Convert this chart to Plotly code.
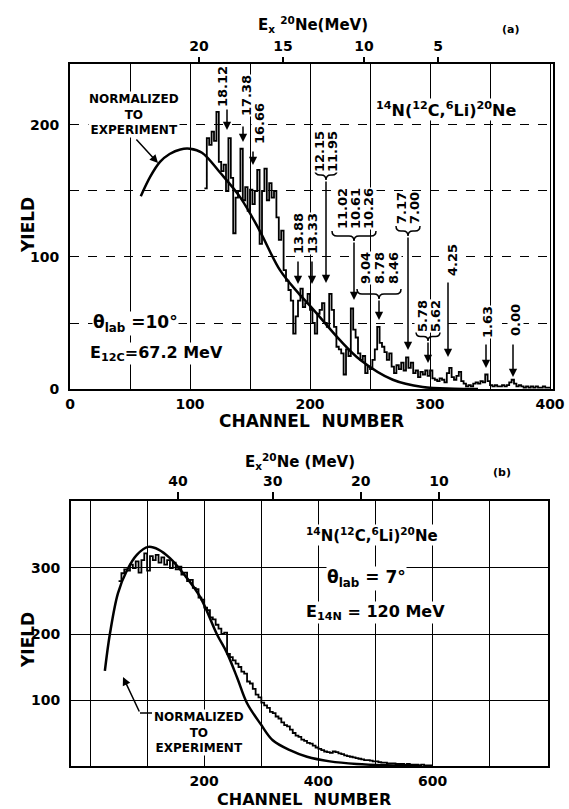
import plotly.graph_objects as go

W, H = 569, 809
FONT = "DejaVu Sans"

# ---------------- Panel (a): 14N(12C,6Li)20Ne, theta_lab = 10 deg ----------------
a_start_channel = 112
a_channel_step = 2
a_counts = [
    152, 190, 185, 195, 188, 210, 172, 165, 170, 150,
    190, 160, 118, 145, 150, 182, 143, 153, 135, 151,
    140, 150, 166, 110, 150, 167, 143, 156, 145, 150,
    130, 113, 120, 90, 82, 75, 67, 42, 55, 67,
    76, 62, 65, 72, 60, 50, 42, 57, 60, 65,
    50, 47, 72, 60, 47, 32, 30, 27, 11, 30,
    25, 61, 45, 39, 27, 22, 25, 12, 17, 15,
    22, 30, 47, 35, 32, 28, 22, 27, 17, 12,
    18, 15, 20, 14, 24, 16, 20, 12, 14, 9,
    13, 11, 14, 10, 14, 8, 7, 6, 8, 7,
    5, 12, 16, 9, 7, 10, 13, 6, 4, 2,
    3, 2, 4, 5, 4, 6, 5, 11, 6, 3,
    2, 3, 2, 2, 3, 2, 3, 5, 7, 4,
    2, 3, 2, 1, 2, 1, 2, 1, 2, 1,
    1, 2, 1, 1, 1,
]
a_channels = [a_start_channel + a_channel_step * i for i in range(len(a_counts))]

a_theory_channel = [59, 67, 75, 83, 92, 100, 110, 125, 142, 158, 175, 190, 203, 225, 242, 269, 294, 320, 340]
a_theory_yield = [146, 161, 172, 178, 181.5, 182, 179, 164, 145, 120, 90, 73, 60, 37, 22, 7, 1.5, 0.2, 0]

a_x_tickvals = [0, 50, 100, 150, 200, 250, 300, 350, 400]
a_x_ticktext = ["0", "", "100", "", "200", "", "300", "", "400"]
a_y_tickvals = [0, 50, 100, 150, 200]
a_y_ticktext = ["0", "", "100", "", "200"]
a_ex_labels = ["20", "15", "10", "5"]
a_ex_channels = [107.5, 177.5, 245, 306.7]

# excitation-energy levels (MeV) marked in panel (a)
a_levels = ["18.12", "17.38", "16.66", "13.88", "13.33", "12.15", "11.95",
            "11.02", "10.61", "10.26", "9.04", "8.78", "8.46", "7.17", "7.00",
            "5.78", "5.62", "4.25", "1.63", "0.00"]

# ---------------- Panel (b): theta_lab = 7 deg ----------------
b_start_channel = 50
b_channel_step = 5
b_counts = [
    280, 292, 298, 296, 305, 300, 310, 293, 312, 322,
    296, 318, 312, 320, 308, 316, 305, 312, 300, 308,
    298, 302, 290, 293, 280, 282, 270, 268, 255, 252,
    240, 236, 225, 222, 214, 208, 200, 202, 170, 165,
    160, 155, 150, 143, 140, 128, 125, 117, 108, 104,
    96, 92, 88, 82, 80, 75, 72, 66, 62, 60,
    55, 50, 46, 44, 40, 38, 35, 34, 31, 28,
    26, 24, 22, 21, 20, 22, 21, 19, 18, 16,
    15, 14, 13, 12, 11, 10, 9, 9, 8, 7,
    7, 6, 5, 5, 4, 4, 4, 3, 3, 3,
    2, 3, 2, 2, 2, 1, 2, 1, 1, 1,
    1,
]
b_channels = [b_start_channel + b_channel_step * i for i in range(len(b_counts))]

b_theory_channel = [26, 35, 49, 65, 82, 102, 120, 140, 165, 193, 222, 240, 258, 275, 300, 320, 350, 380, 420, 467, 520, 580]
b_theory_yield = [144, 201, 262, 297, 320, 332, 328, 315, 290, 256, 200, 171, 133, 95, 62, 39, 24, 14, 7, 3, 1, 0]

b_x_tickvals = [0, 100, 200, 300, 400, 500, 600, 700]
b_x_ticktext = ["", "", "200", "", "400", "", "600", ""]
b_y_tickvals = [100, 200, 300]
b_y_ticktext = ["100", "200", "300"]
b_ex_labels = ["40", "30", "20", "10"]
b_ex_channels = [154, 320, 474, 611]

# ---------------- figure ----------------
fig = go.Figure()
fig.add_trace(go.Scatter(x=a_channels, y=a_counts, mode="lines",
                         line=dict(color="black", width=1.8, shape="hv"),
                         xaxis="x", yaxis="y", showlegend=False, hoverinfo="skip"))
fig.add_trace(go.Scatter(x=a_theory_channel, y=a_theory_yield, mode="lines",
                         line=dict(color="black", width=2.5, shape="spline"),
                         xaxis="x", yaxis="y", showlegend=False, hoverinfo="skip"))
fig.add_trace(go.Scatter(x=b_channels, y=b_counts, mode="lines",
                         line=dict(color="black", width=1.8, shape="hv"),
                         xaxis="x2", yaxis="y2", showlegend=False, hoverinfo="skip"))
fig.add_trace(go.Scatter(x=b_theory_channel, y=b_theory_yield, mode="lines",
                         line=dict(color="black", width=2.5, shape="spline"),
                         xaxis="x2", yaxis="y2", showlegend=False, hoverinfo="skip"))

tickfont = dict(family=FONT, size=14, color="black", weight="bold")
common = dict(showline=True, mirror=True, linecolor="black", linewidth=2,
              zeroline=False, ticks="", tickfont=tickfont, automargin=False,
              gridcolor="black", gridwidth=1)

# pixel frame of each panel
A_L, A_R, A_T, A_B = 70, 553, 64, 389
B_L, B_R, B_T, B_B = 71, 548, 501, 766

fig.update_layout(
    width=W, height=H, autosize=False,
    margin=dict(l=0, r=0, t=0, b=0, pad=0),
    paper_bgcolor="white", plot_bgcolor="white",
    font=dict(family=FONT, color="black"),
    xaxis=dict(domain=[A_L / W, A_R / W], range=[0, 402.5], anchor="y",
               tickmode="array", tickvals=a_x_tickvals, ticktext=a_x_ticktext,
               showgrid=True, griddash="solid", ticklabelstandoff=1, **common),
    yaxis=dict(domain=[1 - A_B / H, 1 - A_T / H], range=[0, 246.2], anchor="x",
               tickmode="array", tickvals=a_y_tickvals, ticktext=a_y_ticktext,
               showgrid=True, griddash="dash", ticklabelstandoff=6, **common),
    xaxis3=dict(overlaying="x", side="top", anchor="y", range=[0, 402.5],
                tickmode="array", tickvals=a_ex_channels, ticktext=a_ex_labels,
                showgrid=False, showline=False, zeroline=False, ticks="outside",
                ticklen=6, tickwidth=1.5, tickcolor="black", tickfont=tickfont,
                ticklabelstandoff=0, automargin=False),
    xaxis2=dict(domain=[B_L / W, B_R / W], range=[-33.3, 802], anchor="y2",
                tickmode="array", tickvals=b_x_tickvals, ticktext=b_x_ticktext,
                showgrid=True, ticklabelstandoff=1, **common),
    yaxis2=dict(domain=[1 - B_B / H, 1 - B_T / H], range=[0, 401.5], anchor="x2",
                tickmode="array", tickvals=b_y_tickvals, ticktext=b_y_ticktext,
                showgrid=True, ticklabelstandoff=6, **common),
    xaxis4=dict(overlaying="x2", side="top", anchor="y2", range=[-33.3, 802],
                tickmode="array", tickvals=b_ex_channels, ticktext=b_ex_labels,
                showgrid=False, showline=False, zeroline=False, ticks="outside",
                ticklen=8, tickwidth=1.5, tickcolor="black", tickfont=tickfont,
                ticklabelstandoff=0, automargin=False),
)
# dummy traces to activate the top axes
fig.add_trace(go.Scatter(x=[None], y=[None], xaxis="x3", yaxis="y", showlegend=False))
fig.add_trace(go.Scatter(x=[None], y=[None], xaxis="x4", yaxis="y2", showlegend=False))

annotations = []
shapes = []


def X(px):
    return px / W


def Y(py):
    return 1 - py / H


def text(t, px, py, size=13, angle=0, bg="white"):
    annotations.append(dict(text=t, x=X(px), y=Y(py), xref="paper", yref="paper",
                            showarrow=False, textangle=angle,
                            font=dict(family=FONT, size=size, color="black", weight="bold"),
                            bgcolor=bg, borderpad=0, xanchor="center", yanchor="middle"))


def arrow(x0, y0, x1, y1, width=1.5):
    annotations.append(dict(text="", x=X(x1), y=Y(y1), xref="paper", yref="paper",
                            ax=x0 - x1, ay=y0 - y1, axref="pixel", ayref="pixel",
                            showarrow=True, arrowhead=2, arrowsize=1.1,
                            arrowwidth=width, arrowcolor="black", standoff=0))


def brace(xc, y0, h, d):
    ym = y0 + d / 2
    pts = (f"M {X(xc-h)},{Y(y0)} Q {X(xc-h)},{Y(ym)} {X(xc-h+d/2)},{Y(ym)} "
           f"L {X(xc-d/2)},{Y(ym)} Q {X(xc)},{Y(ym)} {X(xc)},{Y(y0+d)} "
           f"Q {X(xc)},{Y(ym)} {X(xc+d/2)},{Y(ym)} L {X(xc+h-d/2)},{Y(ym)} "
           f"Q {X(xc+h)},{Y(ym)} {X(xc+h)},{Y(y0)}")
    shapes.append(dict(type="path", path=pts, xref="paper", yref="paper",
                       line=dict(color="black", width=1.5), layer="above"))


# ---- panel (a) texts ----
text("E<sub>x</sub> <sup>20</sup>Ne(MeV)", 313, 25, size=15, bg="rgba(0,0,0,0)")
text("(a)", 510, 30, size=11, bg="rgba(0,0,0,0)")
text("YIELD", 28, 225, size=17, angle=-90, bg="rgba(0,0,0,0)")
text("CHANNEL  NUMBER", 311, 421, size=17, bg="rgba(0,0,0,0)")
text("NORMALIZED<br>TO<br>EXPERIMENT", 134, 115, size=12)
arrow(135, 138, 158, 163)
text("<sup>14</sup>N(<sup>12</sup>C,<sup>6</sup>Li)<sup>20</sup>Ne", 446, 110, size=16)
text("θ<sub>lab</sub> =10°", 135, 323, size=17)
text("E<sub>12C</sub>=67.2 MeV", 156, 353, size=16)

level_pos = [(223, 87), (247, 96), (260, 124), (298, 234), (312, 234), (320, 152), (333, 152),
             (342, 209), (355, 209), (368, 209), (365, 268), (379, 268), (393, 268),
             (401, 208), (414, 208), (422, 316), (435, 316), (452, 260), (488, 322), (515, 320)]
for lab, (px, py) in zip(a_levels, level_pos):
    text(lab, px, py, size=13, angle=-90)

# arrows: tail -> tip (pixels)
for (x0, y0, x1, y1) in [(227, 108, 227, 130), (243, 125, 243, 142), (253, 150, 253, 165),
                         (298, 260, 298, 284), (312, 260, 312, 284), (326, 180, 326, 283),
                         (354, 241, 354, 300), (379, 299, 379, 320), (408, 236, 408, 350),
                         (428, 341, 428, 363), (448, 281, 448, 357), (486, 343, 486, 368),
                         (513, 343, 513, 377)]:
    arrow(x0, y0, x1, y1)

brace(326, 170, 11, 10)
brace(354, 231, 22, 10)
brace(379, 289, 22, 10)
brace(408, 226, 12, 10)
brace(428, 332, 12, 9)

# ---- panel (b) texts ----
text("E<sub>x</sub><sup>20</sup>Ne (MeV)", 300, 461, size=15, bg="rgba(0,0,0,0)")
text("(b)", 502, 473, size=11, bg="rgba(0,0,0,0)")
text("YIELD", 28, 640, size=17, angle=-90, bg="rgba(0,0,0,0)")
text("CHANNEL  NUMBER", 304, 799, size=16, bg="rgba(0,0,0,0)")
text("<sup>14</sup>N(<sup>12</sup>C,<sup>6</sup>Li)<sup>20</sup>Ne", 372, 535, size=15)
text("θ<sub>lab</sub> = 7°", 366, 578, size=17)
text("E<sub>14N</sub> = 120 MeV", 375, 612, size=16)
text("NORMALIZED<br>TO<br>EXPERIMENT", 199, 732, size=12)
arrow(140, 713, 123, 677)
shapes.append(dict(type="line", xref="paper", yref="paper", x0=X(140), y0=Y(713),
                   x1=X(152), y1=Y(713), line=dict(color="black", width=1.5)))

fig.update_layout(annotations=annotations, shapes=shapes)
fig.write_html("out.html")
